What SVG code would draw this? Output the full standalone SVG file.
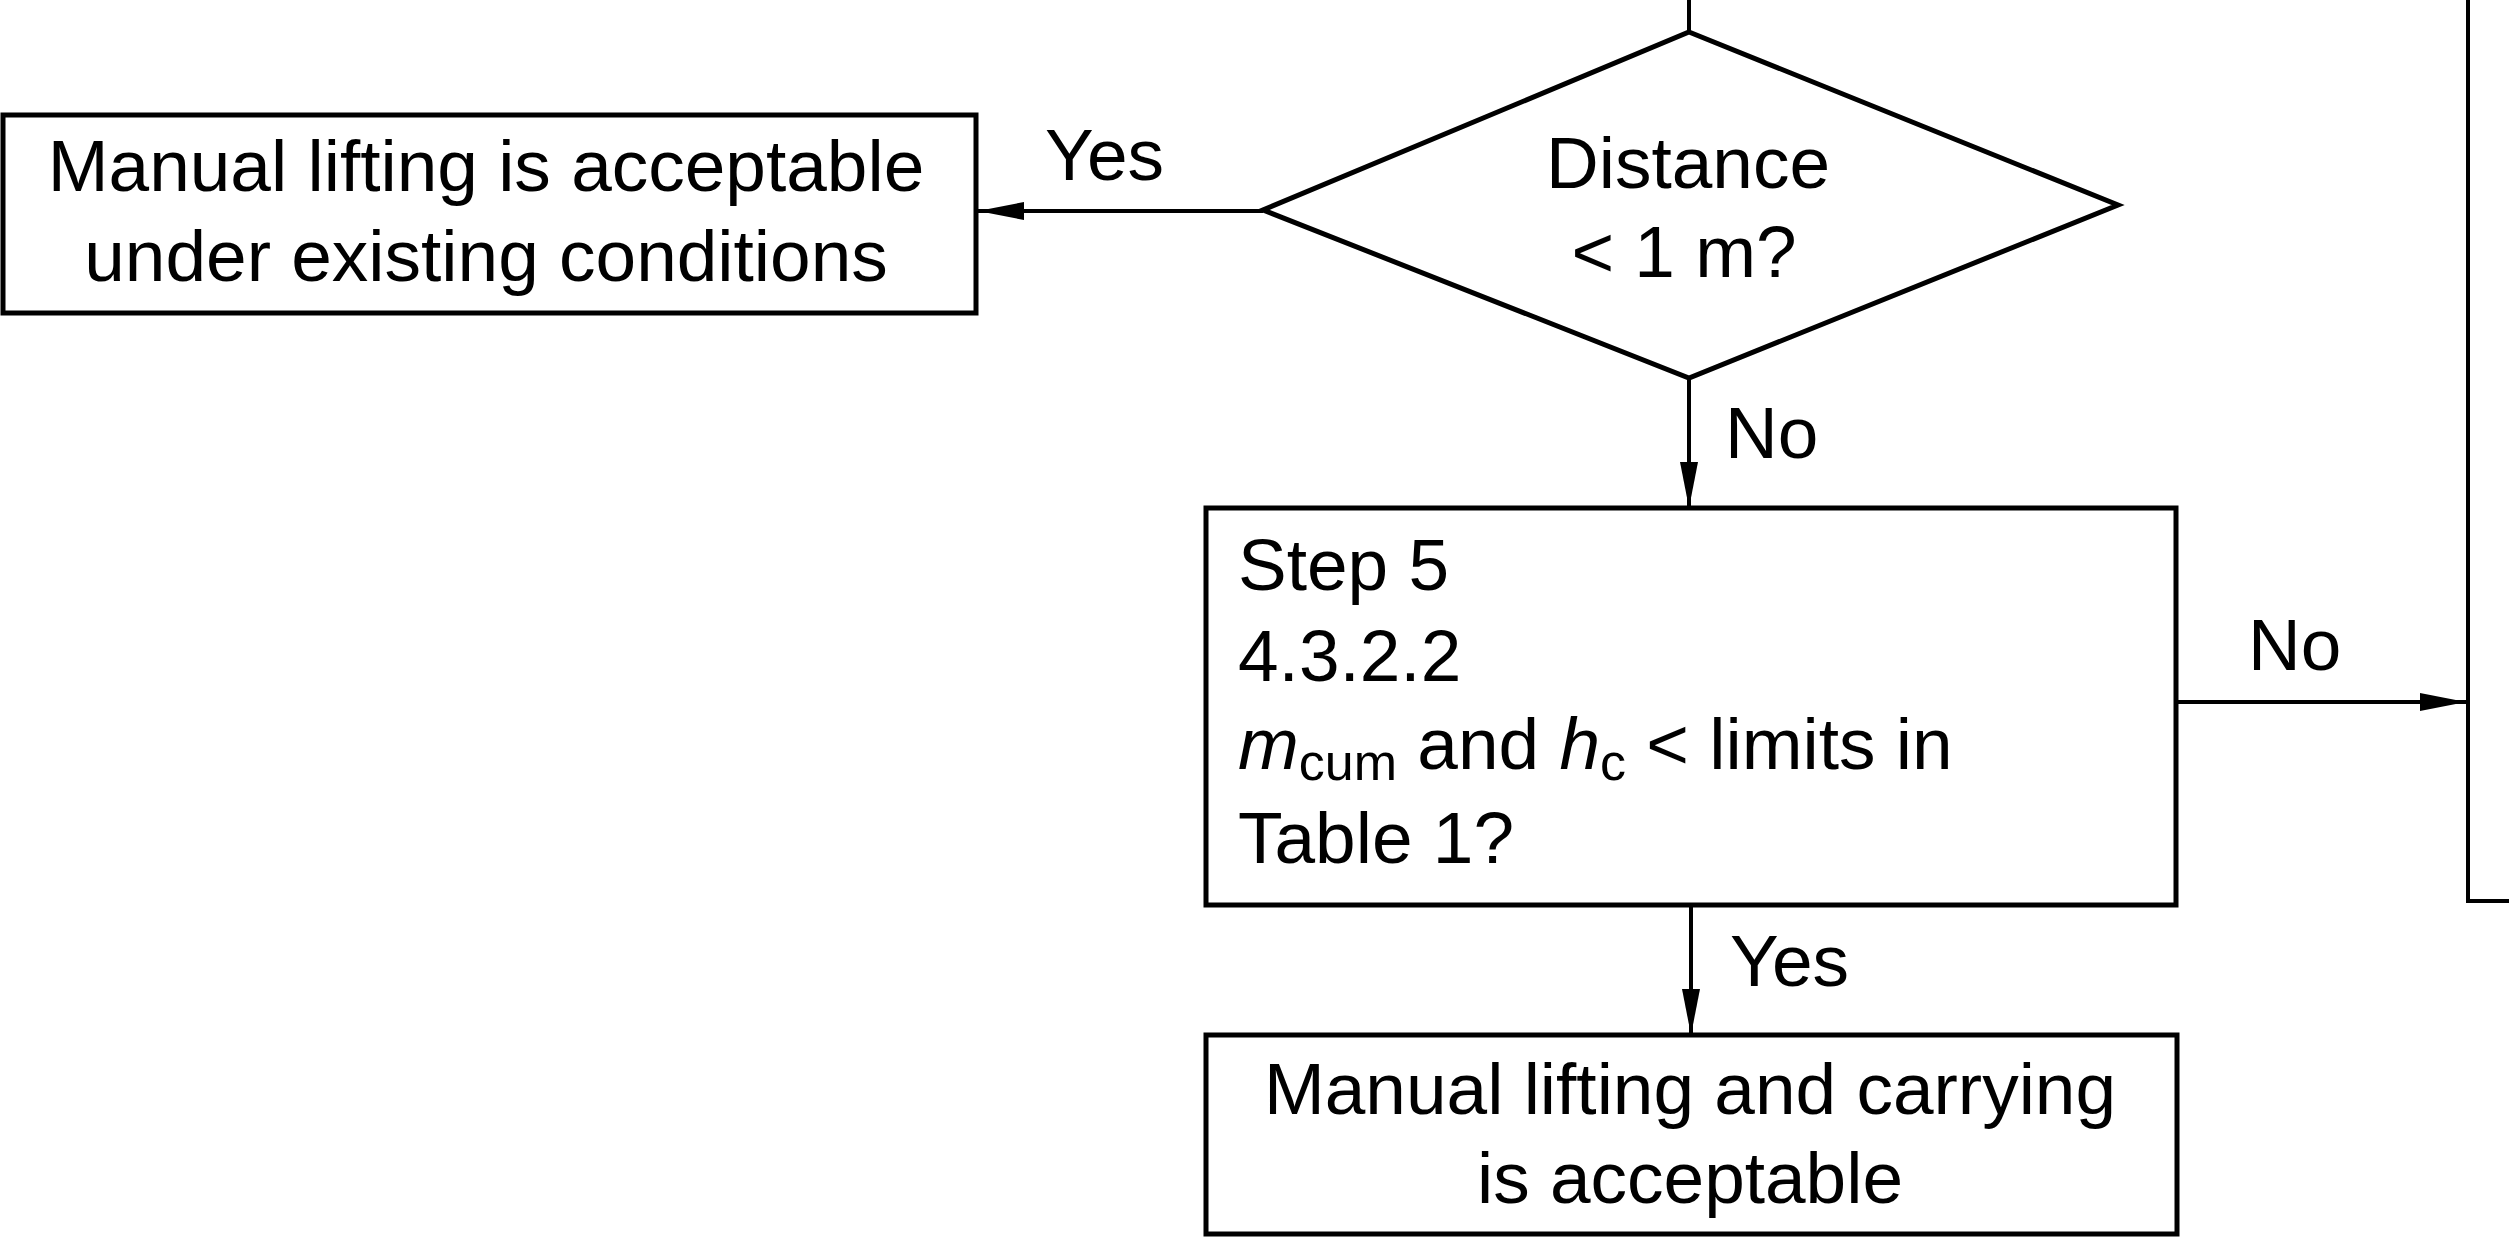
<svg xmlns="http://www.w3.org/2000/svg" width="2509" height="1239" viewBox="0 0 2509 1239">
<defs>
<style>
.box{fill:#fff;stroke:#000;stroke-width:5}
.ln{fill:none;stroke:#000;stroke-width:4}
text{font-family:"Liberation Sans",Arial,sans-serif;font-size:73px;fill:#000}
.c{text-anchor:middle}
.sub{font-size:52px}
.it{font-style:italic}
</style>
<marker id="ah" markerUnits="userSpaceOnUse" markerWidth="50" markerHeight="20" refX="46" refY="9" orient="auto">
<path d="M0,0 L46,9 L0,18 Z" fill="#000"/>
</marker>
</defs>
<rect width="2509" height="1239" fill="#fff"/>
<g id="connectors">
<line class="ln" x1="1689" y1="0" x2="1689" y2="32"/>
<line class="ln" x1="1263" y1="211" x2="978" y2="211" marker-end="url(#ah)"/>
<line class="ln" x1="1689" y1="378" x2="1689" y2="508" marker-end="url(#ah)"/>
<line class="ln" x1="2176" y1="702" x2="2466" y2="702" marker-end="url(#ah)"/>
<line class="ln" x1="1691" y1="906" x2="1691" y2="1035" marker-end="url(#ah)"/>
<polyline class="ln" points="2468,0 2468,901 2512,901"/>
<text x="1045" y="180">Yes</text>
<text x="1725" y="458">No</text>
<text x="2248" y="670">No</text>
<text x="1730" y="986">Yes</text>
</g>
<g id="decision-distance">
<polygon class="box" points="1689,32 2118,205 1689,378 1263,210"/>
<text class="c" x="1688" y="188">Distance</text>
<text class="c" x="1684" y="277">&lt; 1 m?</text>
</g>
<g id="box-acceptable-existing">
<rect class="box" x="3" y="115" width="973" height="198"/>
<text class="c" x="486" y="191">Manual lifting is acceptable</text>
<text class="c" x="486" y="281">under existing conditions</text>
</g>
<g id="box-step5">
<rect class="box" x="1206" y="508" width="970" height="397"/>
<text x="1238" y="590">Step 5</text>
<text x="1238" y="681">4.3.2.2</text>
<text x="1238" y="769"><tspan class="it">m</tspan><tspan class="sub" dy="11">cum</tspan><tspan dy="-11"> and </tspan><tspan class="it">h</tspan><tspan class="sub" dy="11">c</tspan><tspan dy="-11"> &lt; limits in</tspan></text>
<text x="1238" y="863">Table 1?</text>
</g>
<g id="box-acceptable-carrying">
<rect class="box" x="1206" y="1035" width="971" height="199"/>
<text class="c" x="1690" y="1114">Manual lifting and carrying</text>
<text class="c" x="1690" y="1203">is acceptable</text>
</g>
</svg>
